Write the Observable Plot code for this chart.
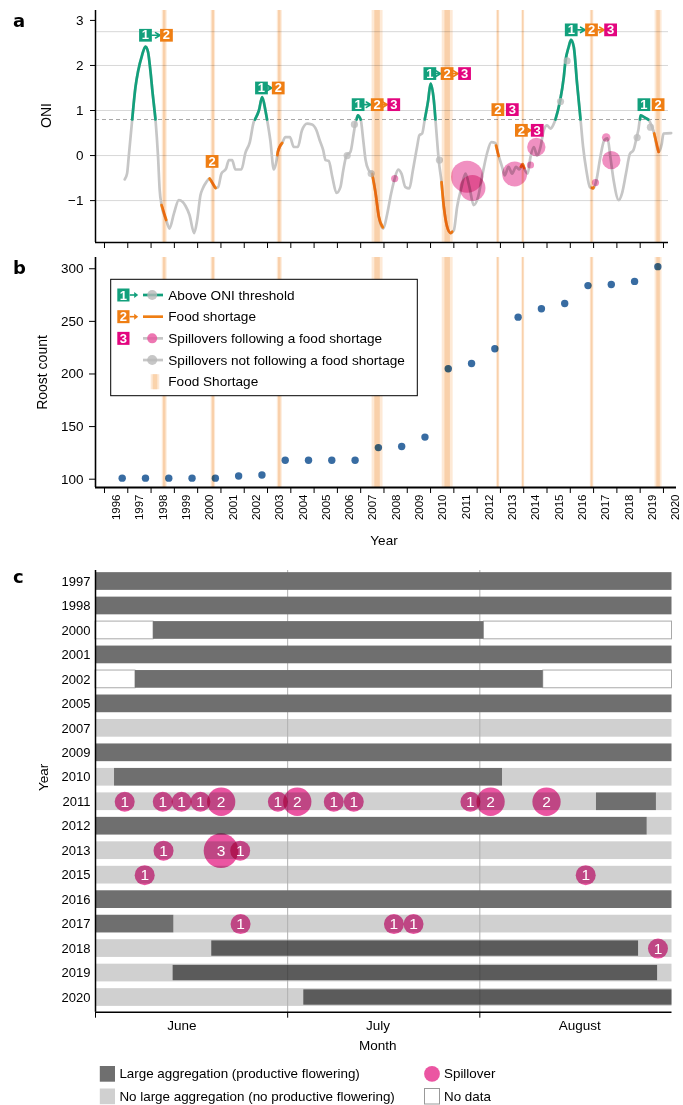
<!DOCTYPE html>
<html><head><meta charset="utf-8">
<script src="https://cdn.jsdelivr.net/npm/d3@7"></script>
<script src="https://cdn.jsdelivr.net/npm/@observablehq/plot@0.6"></script>
<style>
body{margin:0;background:#fff;font-family:"Liberation Sans",Arial,Helvetica,sans-serif;}
#wrap{position:relative;width:683px;height:1105px;overflow:hidden;background:#fff;}
</style></head><body><div id="wrap"></div>
<script>
// ================= DATA =================
// Panel a: Oceanic Niño Index (time in decimal years)
const oniTime = [
 1996.87,1996.97,1997.04,1997.19,1997.33,1997.45,1997.61,1997.76,1997.87,1997.97,
 1998.07,1998.19,1998.30,1998.37,1998.45,1998.65,1998.79,1998.98,1999.19,1999.36,
 1999.48,1999.65,1999.85,1999.98,2000.12,2000.22,2000.37,2000.51,2000.77,2000.88,
 2001.02,2001.22,2001.34,2001.48,2001.62,2001.88,2002.05,2002.24,2002.41,2002.48,
 2002.63,2002.77,2002.91,2002.98,2003.12,2003.27,2003.39,2003.44,2003.63,2003.77,
 2003.96,2004.13,2004.30,2004.48,2004.70,2004.91,2005.10,2005.24,2005.39,2005.49,
 2005.63,2005.78,2005.96,2006.13,2006.25,2006.39,2006.56,2006.70,2006.77,2006.88,
 2007.00,2007.11,2007.21,2007.35,2007.49,2007.64,2007.78,2007.97,2008.14,2008.30,
 2008.46,2008.61,2008.75,2008.92,2009.09,2009.24,2009.42,2009.52,2009.64,2009.75,
 2009.90,2010.00,2010.14,2010.21,2010.28,2010.35,2010.47,2010.57,2010.71,2010.86,
 2011.00,2011.14,2011.33,2011.50,2011.67,2011.85,2012.04,2012.21,2012.42,2012.61,
 2012.78,2012.90,2013.07,2013.18,2013.35,2013.50,2013.67,2013.81,2013.95,2014.06,
 2014.17,2014.29,2014.43,2014.58,2014.72,2014.86,2015.00,2015.15,2015.26,2015.36,
 2015.55,2015.72,2015.79,2015.93,2016.03,2016.15,2016.29,2016.44,2016.55,2016.69,
 2016.84,2016.98,2017.12,2017.29,2017.46,2017.60,2017.72,2017.86,2018.08,2018.22,
 2018.39,2018.56,2018.71,2018.85,2018.92,2019.02,2019.21,2019.35,2019.50,2019.60,
 2019.79,2019.93,2020.00,2020.33];
const oniValue = [
 -0.53,-0.40,-0.03,0.80,1.52,1.89,2.22,2.42,2.30,1.89,
 1.37,0.80,-0.03,-0.77,-1.10,-1.43,-1.62,-1.29,-0.99,-1.03,
 -1.12,-1.32,-1.72,-1.43,-0.88,-0.73,-0.59,-0.51,-0.72,-0.70,
 -0.40,-0.29,-0.10,-0.10,-0.31,-0.31,0.06,0.30,0.75,0.82,
 1.00,1.30,1.00,0.80,0.34,-0.31,-0.10,0.08,0.28,0.41,
 0.41,0.19,0.19,0.56,0.71,0.69,0.56,0.34,0.12,-0.10,
 -0.12,-0.47,-0.83,-0.70,-0.33,0.00,0.08,0.49,0.71,0.89,
 0.80,0.34,-0.10,-0.33,-0.41,-0.84,-1.36,-1.62,-1.29,-0.86,
 -0.51,-0.31,-0.40,-0.70,-0.73,-0.33,0.19,0.45,0.49,0.80,
 1.23,1.60,1.23,0.80,0.34,-0.10,-0.59,-1.14,-1.58,-1.72,
 -1.66,-1.14,-0.70,-0.40,-0.70,-1.10,-0.92,-0.47,0.04,0.30,
 0.28,0.04,-0.25,-0.44,-0.25,-0.40,-0.25,-0.31,-0.19,-0.33,
 -0.40,-0.03,0.19,0.00,0.19,0.56,0.67,0.60,0.67,0.80,
 1.19,1.74,2.09,2.41,2.57,2.41,1.60,0.80,0.19,-0.33,
 -0.70,-0.73,-0.55,-0.03,0.34,0.38,-0.03,-0.55,-0.99,-0.84,
 -0.40,0.04,0.12,0.41,0.56,0.89,0.84,0.80,0.65,0.49,
 0.08,0.27,0.49,0.50];
const oniThreshold = 0.8;
const oniTicks = [-1, 0, 1, 2, 3];
const oniGridValues = [-1, 0, 1, 2, 2.75];
const yearTicks = [1996,1997,1998,1999,2000,2001,2002,2003,2004,2005,2006,2007,2008,2009,2010,2011,2012,2013,2014,2015,2016,2017,2018,2019,2020];

// Food shortage periods (vertical bands)
const shortageStart = [1998.48, 2000.58, 2003.42, 2007.49, 2010.50, 2012.84, 2013.92, 2016.86, 2019.64];
const shortageEnd   = [1998.69, 2000.77, 2003.63, 2007.96, 2010.97, 2012.97, 2014.04, 2017.01, 2019.94];
// ONI stretches coloured as "food shortage"
const foodLineStart = [1998.45, 2000.51, 2003.42, 2007.49, 2010.47, 2012.81, 2013.88, 2016.93, 2019.60];
const foodLineEnd   = [1998.65, 2000.77, 2003.63, 2007.95, 2010.93, 2012.93, 2014.02, 2017.00, 2019.79];

// Spillovers following a food shortage (time, ONI, weight)
const spillTime   = [2008.46, 2011.57, 2011.80, 2013.61, 2014.29, 2014.54, 2017.08, 2017.54, 2017.76];
const spillValue  = [-0.51, -0.47, -0.72, -0.41, -0.21, 0.19, -0.60, 0.40, -0.10];
const spillWeight = [1, 20, 13, 12, 1, 6.5, 1, 1.4, 6.5];
// Spillovers not following a food shortage
const otherSpillTime  = [2006.42, 2006.73, 2007.45, 2010.38, 2015.58, 2015.86, 2018.87, 2019.44];
const otherSpillValue = [0.00, 0.69, -0.40, -0.10, 1.20, 2.10, 0.40, 0.63];

// Numbered annotation boxes: 1 = above ONI threshold, 2 = food shortage, 3 = spillovers
const labelKind  = [1,2, 2, 1,2, 1,2,3, 1,2,3, 2,3, 2,3, 1,2,3, 1,2];
const labelTime  = [1997.76,1998.66, 2000.62, 2002.74,2003.46, 2006.89,2007.71,2008.42, 2009.97,2010.71,2011.46, 2012.89,2013.51, 2013.90,2014.58, 2016.04,2016.91,2017.73, 2019.16,2019.77];
const labelGroup = [0,0, 1, 2,2, 3,3,3, 4,4,4, 5,5, 6,6, 7,7,7, 8,8];
const groupValue = [2.67, -0.13, 1.50, 1.13, 1.82, 1.02, 0.56, 2.79, 1.13];

// Panel b: roost counts
const roostTime  = [1996.76,1997.76,1998.76,1999.76,2000.76,2001.76,2002.76,2003.76,2004.76,2005.76,2006.76,2007.76,2008.76,2009.76,2010.76,2011.76,2012.76,2013.76,2014.76,2015.76,2016.76,2017.76,2018.76,2019.76];
const roostCount = [101,101,101,101,101,103,104,118,118,118,118,130,131,140,205,210,224,254,262,267,284,285,288,302];
const roostTicks = [100, 150, 200, 250, 300];

// Panel c: flowering (months since 1 June)
const flowerYears = ["1997","1998","2000","2001","2002","2005","2007","2009","2010","2011","2012","2013","2015","2016","2017","2018","2019","2020"];
const segYear  = ["1997","1998","2000","2000","2000","2001","2002","2002","2002","2005","2007","2009","2010","2010","2010","2011","2011","2011","2012","2012","2013","2015","2016","2017","2017","2018","2018","2019","2019","2020","2020"];
const segStart = [0,0,0,0.302,2.021,0,0,0.208,2.330,0,0,0,0,0.099,2.118,0,2.607,2.919,0,2.871,0,0,0,0,0.408,0,0.605,0,0.404,0,1.084];
const segEnd   = [3,3,0.302,2.021,3,3,0.208,2.330,3,3,3,3,0.099,2.118,3,2.607,2.919,3,2.871,3,3,3,3,0.408,3,3,2.826,3,2.925,3,3];
const segType  = ["large","large","nodata","large","nodata","large","nodata","large","nodata","large","small","large","small","large","small","small","large","small","large","small","small","small","large","large","small","small","overlay","small","overlay","small","overlay"];
const spillYearC  = ["2011","2011","2011","2011","2011","2011","2011","2011","2011","2011","2011","2011","2013","2013","2013","2015","2015","2017","2017","2017","2018"];
const spillMonthC = [0.152,0.350,0.448,0.546,0.654,0.949,1.050,1.240,1.344,1.951,2.056,2.347, 0.354,0.653,0.753, 0.256,2.551, 0.755,1.553,1.655, 2.927];
const spillCountC = [1,1,1,1,2,1,2,1,1,1,2,2, 1,3,1, 1,1, 1,1,1, 1];
const monthNames = ["June", "July", "August"];
const monthLabelPos = [0.45, 1.47, 2.52];
const monthBounds = [0, 1, 2];

// ================= STYLE =================
const W = 683;
const FONT = '"Liberation Sans", Arial, Helvetica, sans-serif';
const green = "#12a07c", orange = "#ef7e13", magenta = "#e3057f", greyLine = "#c6c6c6", pink = "#e8559f";
const boxColor = {1: green, 2: orange, 3: magenta};
const baseStyle = {fontFamily: FONT, background: "transparent", overflow: "visible", color: "#000"};
const minusFormat = d => (d < 0 ? "\u2212" : "") + Math.abs(d);

// ================= DERIVED =================
const oni = oniTime.map((t, i) => ({t, v: oniValue[i]}));
function interp(t) {
  for (let i = 1; i < oni.length; i++) {
    if (oni[i].t >= t) { const a = oni[i-1], b = oni[i]; return a.v + (t - a.t) / (b.t - a.t) * (b.v - a.v); }
  }
  return oni[oni.length - 1].v;
}
function slice(t0, t1, id) {
  const pts = [{t: t0, v: interp(t0), id}];
  oni.forEach(p => { if (p.t > t0 && p.t < t1) pts.push({...p, id}); });
  pts.push({t: t1, v: interp(t1), id});
  return pts;
}
const crossT = (a, b) => a.t + (oniThreshold - a.v) / (b.v - a.v) * (b.t - a.t);
const greenRuns = []; let runStart = null;
for (let i = 0; i < oni.length; i++) {
  const above = oni[i].v >= oniThreshold;
  if (above && runStart === null) runStart = i ? crossT(oni[i-1], oni[i]) : oni[i].t;
  if (!above && runStart !== null) { greenRuns.push([runStart, crossT(oni[i-1], oni[i])]); runStart = null; }
}
const greenPts = greenRuns.flatMap((r, k) => slice(r[0], r[1], k));
const orangePts = foodLineStart.flatMap((s, k) => slice(s, foodLineEnd[k], k));
const bands = shortageStart.map((s, i) => ({s, e: shortageEnd[i]}));
const bandsInner = bands.map(b => { const w = b.e - b.s; return {s: b.s + w * 0.25, e: b.e - w * 0.25}; });
const spills = spillTime.map((t, i) => ({t, v: spillValue[i], n: spillWeight[i]}));
const otherSpills = otherSpillTime.map((t, i) => ({t, v: otherSpillValue[i], n: 1}));
const labels = labelKind.map((k, i) => ({k, t: labelTime[i], g: labelGroup[i], v: groupValue[labelGroup[i]]}));
const arrows = [];
for (let i = 0; i + 1 < labels.length; i++) {
  if (labels[i].g === labels[i+1].g && labels[i+1].t - labels[i].t > 0.64)
    arrows.push({t1: labels[i].t, t2: labels[i+1].t, v: labels[i].v, k: labels[i].k});
}
const roost = roostTime.map((t, i) => ({t, c: roostCount[i]}));
const segs = segYear.map((y, i) => ({i: flowerYears.indexOf(y), s: segStart[i], e: segEnd[i], type: segType[i]}));
const spillC = spillYearC.map((y, i) => ({i: flowerYears.indexOf(y), m: spillMonthC[i], n: spillCountC[i]}));
const halfBar = 0.362;

function bandMarks() {
  return [
    Plot.rect(bands, {x1: "s", x2: "e", fill: "#fde9d6", mixBlendMode: "multiply"}),
    Plot.rect(bandsInner, {x1: "s", x2: "e", fill: "#fbe4cb", mixBlendMode: "multiply"})
  ];
}

// ================= PANEL A =================
const xDomA = [1995.614, 2020.216], yDomA = [-1.93, 3.22];
const plotA = Plot.plot({
  width: W, height: 250, marginLeft: 95, marginRight: 15, marginTop: 10, marginBottom: 8,
  style: {...baseStyle, fontSize: "13.5px"},
  x: {domain: xDomA, ticks: yearTicks, tickFormat: () => "", tickSize: 6, label: null},
  y: {domain: yDomA, ticks: oniTicks, tickFormat: minusFormat, tickSize: 5, tickPadding: 7, label: null},
  r: {type: "sqrt", domain: [0, 1], range: [0, 3.6], clamp: false},
  color: {type: "identity"},
  marks: [
    Plot.ruleY(oniGridValues, {stroke: "#d8d8d8", strokeWidth: 1}),
    Plot.ruleY([oniThreshold], {stroke: "#a8a8a8", strokeWidth: 1, strokeDasharray: "4,3"}),
    Plot.line(oni, {x: "t", y: "v", stroke: greyLine, strokeWidth: 2.7, curve: "monotone-x"}),
    Plot.line(greenPts, {x: "t", y: "v", z: "id", stroke: green, strokeWidth: 2.7, curve: "monotone-x"}),
    Plot.line(orangePts, {x: "t", y: "v", z: "id", stroke: orange, strokeWidth: 2.7, curve: "monotone-x"}),
    Plot.dot(otherSpills, {x: "t", y: "v", r: "n", fill: "#b9b9b9", fillOpacity: 0.75}),
    Plot.dot(spills, {x: "t", y: "v", r: "n", fill: pink, fillOpacity: 0.65, mixBlendMode: "multiply"}),
    ...bandMarks(),
    Plot.ruleX([xDomA[0]], {stroke: "#000", strokeWidth: 1.5}),
    Plot.ruleY([yDomA[0]], {stroke: "#000", strokeWidth: 1.5}),
    Plot.arrow(arrows, {x1: "t1", x2: "t2", y1: "v", y2: "v", stroke: d => boxColor[d.k], strokeWidth: 1.6, headLength: 5, insetStart: 6.5, insetEnd: 6.3}),
    Plot.dot(labels, {x: "t", y: "v", symbol: "square", r: 7.2, fill: d => boxColor[d.k]}),
    Plot.text(labels, {x: "t", y: "v", text: d => String(d.k), fill: "#fff", fontSize: 13, fontWeight: "bold"}),
    Plot.text(["ONI"], {frameAnchor: "left", textAnchor: "middle", lineAnchor: "middle", rotate: -90, dx: -49, dy: -11, fontSize: 14})
  ]
});

// ================= PANEL B =================
const xDomB = [1995.614, 2020.56], yDomB = [92.1, 310.7];
const plotB = Plot.plot({
  width: W, height: 305, marginLeft: 95, marginRight: 7, marginTop: 7, marginBottom: 68,
  style: {...baseStyle, fontSize: "13.5px"},
  x: {domain: xDomB, ticks: yearTicks, tickFormat: () => "", tickSize: 6, label: null},
  y: {domain: yDomB, ticks: roostTicks, tickSize: 6, tickPadding: 6, label: null},
  marks: [
    Plot.dot(roost, {x: "t", y: "c", r: 3.7, fill: "#386ca2"}),
    ...bandMarks(),
    Plot.ruleX([xDomB[0]], {stroke: "#000", strokeWidth: 1.6}),
    Plot.ruleY([yDomB[0]], {stroke: "#000", strokeWidth: 1.8}),
    Plot.text(yearTicks, {x: d => d, text: d => String(d), frameAnchor: "bottom", rotate: -90, textAnchor: "end", lineAnchor: "middle", dx: 12, dy: 7, fontSize: 11.5}),
    Plot.text(["Roost count"], {frameAnchor: "left", textAnchor: "middle", lineAnchor: "middle", rotate: -90, dx: -53, fontSize: 14}),
    Plot.text(["Year"], {frameAnchor: "bottom", textAnchor: "middle", lineAnchor: "middle", dx: -2, dy: 53, fontSize: 13.5})
  ]
});

// ================= PANEL C =================
const yDomC = [-0.45, 17.6];
const barY1 = d => d.i - halfBar, barY2 = d => d.i + halfBar;
const plotC = Plot.plot({
  width: W, height: 500, marginLeft: 95, marginRight: 11.5, marginTop: 15, marginBottom: 43.3,
  style: {...baseStyle, fontSize: "13px"},
  x: {domain: [0, 3], ticks: monthBounds, tickFormat: () => "", tickSize: 6, label: null},
  y: {domain: yDomC, reverse: true, ticks: d3.range(flowerYears.length), tickFormat: i => flowerYears[i], tickSize: 0, tickPadding: 5, label: null},
  r: {type: "sqrt", domain: [0, 1], range: [0, 10], clamp: false},
  color: {type: "identity"},
  marks: [
    Plot.rect(segs.filter(d => d.type === "small"), {x1: "s", x2: "e", y1: barY1, y2: barY2, fill: "#d0d0d0"}),
    Plot.rect(segs.filter(d => d.type === "nodata"), {x1: "s", x2: "e", y1: barY1, y2: barY2, fill: "#fff", stroke: "#a9a9a9", strokeWidth: 1}),
    Plot.ruleX(monthBounds.slice(1), {stroke: "#b0b0b0", strokeWidth: 1}),
    Plot.rect(segs.filter(d => d.type === "large"), {x1: "s", x2: "e", y1: barY1, y2: barY2, fill: "#6f6f6f"}),
    Plot.rect(segs.filter(d => d.type === "overlay"), {x1: "s", x2: "e", y1: barY1, y2: barY2, insetTop: 1.2, insetBottom: 1.2, fill: "#6f6f6f", mixBlendMode: "multiply"}),
    Plot.dot(spillC, {x: "m", y: "i", r: "n", fill: "#eb55a2", mixBlendMode: "multiply"}),
    Plot.text(spillC, {x: "m", y: "i", text: d => String(d.n), fill: "#fff", fontSize: 15.5}),
    Plot.ruleX([0], {stroke: "#000", strokeWidth: 1.5}),
    Plot.ruleY([yDomC[1]], {stroke: "#000", strokeWidth: 1.5}),
    Plot.text(monthNames, {x: (d, i) => monthLabelPos[i], frameAnchor: "bottom", textAnchor: "middle", lineAnchor: "middle", dy: 13, fontSize: 13.5}),
    Plot.text(["Month"], {frameAnchor: "bottom", textAnchor: "middle", lineAnchor: "middle", dx: -6, dy: 33.5, fontSize: 13.5}),
    Plot.text(["Year"], {frameAnchor: "left", textAnchor: "middle", lineAnchor: "middle", rotate: -90, dx: -52, dy: -14, fontSize: 13.5})
  ]
});

// ================= LAYOUT =================
const wrap = document.getElementById("wrap");
function place(node, top) { node.style.position = "absolute"; node.style.left = "0px"; node.style.top = top + "px"; wrap.appendChild(node); }
place(plotA, 0); place(plotB, 250); place(plotC, 555);

// Overlay: panel letters and legends
const ns = "http://www.w3.org/2000/svg";
const ov = document.createElementNS(ns, "svg");
ov.setAttribute("width", W); ov.setAttribute("height", 1105);
ov.style.position = "absolute"; ov.style.left = "0"; ov.style.top = "0"; ov.style.pointerEvents = "none";
ov.style.fontFamily = FONT;
function el(tag, attrs, text) {
  const e = document.createElementNS(ns, tag);
  for (const k in attrs) e.setAttribute(k, attrs[k]);
  if (text != null) e.textContent = text;
  ov.appendChild(e); return e;
}
// panel letters
[["a", 13, 27], ["b", 13, 274], ["c", 13, 582.5]].forEach(([t, x, y]) =>
  el("text", {x, y, "font-size": 18, "font-weight": "bold", "font-family": '"DejaVu Sans", Arial, sans-serif'}, t));

// legend b
const LX = 110.7, LY = 279.3;
el("rect", {x: LX, y: LY, width: 306.6, height: 116.4, fill: "#fff", stroke: "#000", "stroke-width": 1});
const rowsB = [
  {k: 1, arrow: true, line: green, dot: "#b9b9b9", label: "Above ONI threshold"},
  {k: 2, arrow: true, line: orange, dot: null, label: "Food shortage"},
  {k: 3, arrow: false, line: greyLine, dot: pink, label: "Spillovers following a food shortage"},
  {k: null, arrow: false, line: greyLine, dot: "#b9b9b9", label: "Spillovers not following a food shortage"},
  {k: null, band: true, label: "Food Shortage"}
];
rowsB.forEach((r, j) => {
  const cy = LY + 15.7 + j * 21.68;
  if (r.k) {
    el("rect", {x: LX + 6.6, y: cy - 6.5, width: 12.2, height: 13, fill: boxColor[r.k]});
    el("text", {x: LX + 12.7, y: cy, "font-size": 13, "font-weight": "bold", fill: "#fff", "text-anchor": "middle", "dominant-baseline": "central"}, String(r.k));
  }
  if (r.arrow) {
    el("line", {x1: LX + 19, x2: LX + 24.5, y1: cy, y2: cy, stroke: boxColor[r.k], "stroke-width": 1.6});
    el("path", {d: `M${LX + 23.5},${cy - 3}L${LX + 27.5},${cy}L${LX + 23.5},${cy + 3}Z`, fill: boxColor[r.k]});
  }
  if (r.line) el("line", {x1: LX + 32.3, x2: LX + 52.3, y1: cy, y2: cy, stroke: r.line, "stroke-width": 2.7});
  if (r.dot) el("circle", {cx: LX + 41.5, cy, r: 5, fill: r.dot, "fill-opacity": 0.8});
  if (r.band) {
    el("rect", {x: LX + 40, y: cy - 7.5, width: 8.6, height: 15, fill: "#fde9d6"});
    el("rect", {x: LX + 42, y: cy - 7.5, width: 4.6, height: 15, fill: "#fad3ac"});
  }
  el("text", {x: LX + 57.6, y: cy, "font-size": 13.6, "dominant-baseline": "central"}, r.label);
});

// legend c
const CY = 1060;
el("rect", {x: 99.8, y: CY + 6, width: 15.2, height: 15.7, fill: "#6f6f6f"});
el("text", {x: 119.4, y: CY + 13.6, "font-size": 13.4, "dominant-baseline": "central"}, "Large aggregation (productive flowering)");
el("rect", {x: 99.8, y: CY + 28.5, width: 15.2, height: 15.7, fill: "#d0d0d0"});
el("text", {x: 119.4, y: CY + 36.5, "font-size": 13.4, "dominant-baseline": "central"}, "No large aggregation (no productive flowering)");
el("circle", {cx: 432, cy: CY + 13.9, r: 7.9, fill: "#eb55a2"});
el("text", {x: 444, y: CY + 13.6, "font-size": 13.4, "dominant-baseline": "central"}, "Spillover");
el("rect", {x: 424.5, y: CY + 28.5, width: 15, height: 15.5, fill: "#fff", stroke: "#999", "stroke-width": 1});
el("text", {x: 444, y: CY + 36.5, "font-size": 13.4, "dominant-baseline": "central"}, "No data");
wrap.appendChild(ov);
</script></body></html>
